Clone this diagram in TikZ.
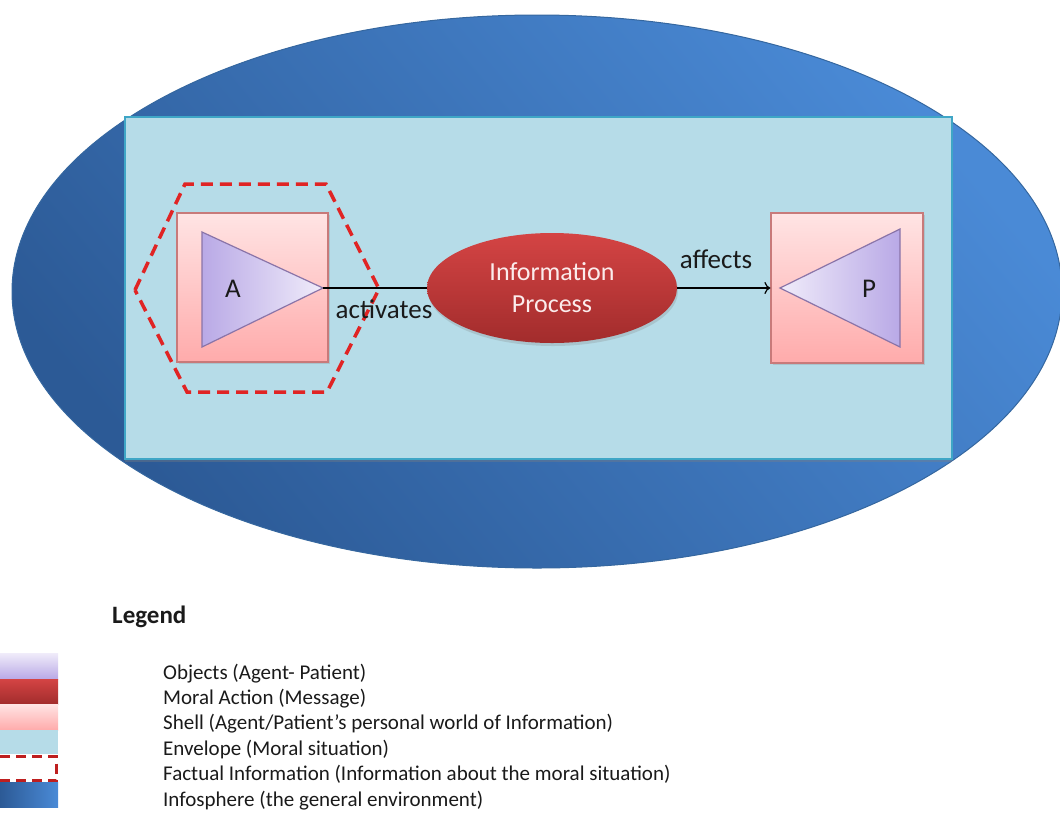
\documentclass[tikz,border=0pt]{standalone}
\usepackage{fontspec}
\setmainfont{Carlito}
\usetikzlibrary{shapes.geometric,shadows,arrows.meta}

\definecolor{sphereDark}{HTML}{2C5A96}
\definecolor{sphereLight}{HTML}{4A8AD6}
\definecolor{sphereEdge}{HTML}{35679F}
\definecolor{envFill}{HTML}{B6DCE8}
\definecolor{envEdge}{HTML}{3FA6C6}
\definecolor{shellTop}{HTML}{FFE4E4}
\definecolor{shellBot}{HTML}{FFABAB}
\definecolor{shellEdge}{HTML}{C87A7A}
\definecolor{objDark}{HTML}{B9A9E6}
\definecolor{objLight}{HTML}{F0ECFA}
\definecolor{objEdge}{HTML}{8A74A8}
\definecolor{actTop}{HTML}{D44444}
\definecolor{actBot}{HTML}{A22C2C}
\definecolor{actText}{HTML}{FBECEC}
\definecolor{factRed}{HTML}{E02424}
\definecolor{ink}{HTML}{1A1A1A}

\tikzset{
  sphere/.style={ellipse, inner sep=0pt, minimum width=1050pt, minimum height=553pt,
    draw=sphereEdge, line width=1pt, top color=sphereLight, bottom color=sphereDark,
    shading angle=-50},
  envelope/.style={rectangle, inner sep=0pt, minimum width=827pt, minimum height=342pt,
    fill=envFill, draw=envEdge, line width=1.6pt,
    drop shadow={shadow xshift=0pt, shadow yshift=-3pt, opacity=0.35}},
  shell/.style={rectangle, inner sep=0pt, draw=shellEdge, line width=1.2pt,
    top color=shellTop, bottom color=shellBot,
    drop shadow={shadow xshift=1.5pt, shadow yshift=-2pt, opacity=0.25}},
  object/.style={draw=objEdge, line width=1.2pt},
  action/.style={ellipse, inner sep=0pt, minimum width=250pt, minimum height=110pt,
    top color=actTop, bottom color=actBot, text=actText, align=center,
    font=\fontsize{26}{33}\selectfont,
    drop shadow={shadow xshift=1pt, shadow yshift=-3pt, opacity=0.25}},
  factual/.style={draw=factRed, line width=3.5pt, dash pattern=on 12pt off 7pt},
  lbl/.style={text=ink, font=\fontsize{27}{32}\selectfont, inner sep=0pt, anchor=base},
  link/.style={draw=black, line width=1.2pt},
  legtext/.style={text=ink, font=\fontsize{21}{25}\selectfont, inner sep=0pt, anchor=base west},
}

\begin{document}
\begin{tikzpicture}[x=1pt,y=-1pt]
\useasboundingbox (0,0) rectangle (1060,812);

% infosphere and the envelope inside it
\node[sphere] (sphere) at (537,291.5) {};
\node[envelope] (env) at (538.5,288) {};

% shells
\node[shell, minimum width=151pt, minimum height=149pt] (lshell) at (252.5,287.5) {};
\node[shell, minimum width=152pt, minimum height=150pt] (rshell) at (847,288) {};

% agent object (points right)
\coordinate (aTop) at (202,232);
\coordinate (aTip) at (323,288);
\coordinate (aBot) at (202,347);
\path[object, left color=objDark, right color=objLight] (aTop) -- (aTip) -- (aBot) -- cycle;
\node[lbl] (agent) at (233,297) {A};

% patient object (points left)
\coordinate (pTip) at (780,288);
\coordinate (pTop) at (900,229);
\coordinate (pBot) at (900,347);
\path[object, left color=objLight, right color=objDark] (pTip) -- (pTop) -- (pBot) -- cycle;
\node[lbl] (patient) at (869,297) {P};

% factual information around the agent
\coordinate (h1) at (135,290);
\coordinate (h2) at (185,184);
\coordinate (h3) at (326,184);
\coordinate (h4) at (379,289);
\coordinate (h5) at (327,392);
\coordinate (h6) at (187,392);
\draw[factual] (h1) -- (h2) -- (h3) -- (h4) -- (h5) -- (h6) -- cycle;

% moral action
\node[action] (ip) at (552,288) {Information\\[-1pt]Process};

% connectors
\draw[link] (aTip) -- (ip.west);
\node[lbl] (activates) at (384,318) {activates};
\draw[link, -{To[length=6pt,width=12pt]}] (ip.east) -- (rshell.west);
\node[lbl] (affects) at (716,268) {affects};

% legend
\node[text=ink, font=\fontsize{25}{28}\bfseries\selectfont, inner sep=0pt, anchor=base west]
  (legend) at (112,623) {Legend};

\path[top color=objLight, bottom color=objDark, draw=none] (0,653) rectangle (58,679);
\path[top color=actTop, bottom color=actBot, draw=none] (0,679) rectangle (58,704);
\path[top color=shellTop, bottom color=shellBot, draw=none] (0,704) rectangle (58,730);
\fill[envFill] (0,730) rectangle (58,754);
\fill[white] (0,755) rectangle (57,781);
\draw[draw=factRed!85!black, line width=3pt, dash pattern=on 10pt off 6pt]
  (0,756) -- (56.5,756) -- (56.5,780.5) -- (0,780.5);
\path[left color=sphereDark, right color=sphereLight, draw=none] (0,782) rectangle (58,807);

\node[legtext] (l1) at (163,679) {Objects (Agent- Patient)};
\node[legtext] (l2) at (163,704.4) {Moral Action (Message)};
\node[legtext] (l3) at (163,729.8) {Shell (Agent/Patient’s personal world of Information)};
\node[legtext] (l4) at (163,755.2) {Envelope (Moral situation)};
\node[legtext] (l5) at (163,780.6) {Factual Information (Information about the moral situation)};
\node[legtext] (l6) at (163,806) {Infosphere (the general environment)};
\end{tikzpicture}
\end{document}
